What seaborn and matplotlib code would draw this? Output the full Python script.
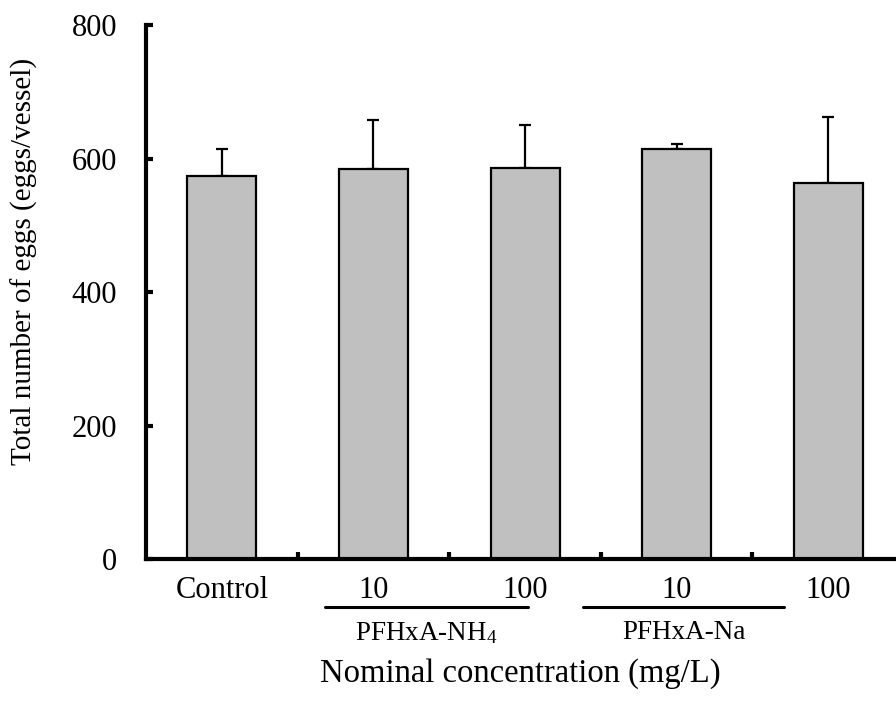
import matplotlib
matplotlib.use("Agg")
import matplotlib.pyplot as plt
import matplotlib.transforms as mtransforms
import pandas as pd
import seaborn as sns

# values
treatments = ["Control", "NH4 10", "NH4 100", "Na 10", "Na 100"]
tick_labels = ["Control", "10", "100", "10", "100"]
mean_eggs = [574, 585, 586, 615, 563]
sd_eggs = [41, 73, 64, 7, 100]
salt_groups = ["PFHxA-NH$_4$", "PFHxA-Na"]

df = pd.DataFrame({"treatment": treatments, "eggs": mean_eggs, "sd": sd_eggs})

sns.set_theme(style="ticks")
plt.rcParams["font.family"] = ["Liberation Serif", "DejaVu Serif"]
plt.rcParams["mathtext.fontset"] = "custom"
plt.rcParams["mathtext.rm"] = "Liberation Serif"
plt.rcParams["mathtext.it"] = "Liberation Serif:italic"
plt.rcParams["text.color"] = "black"
plt.rcParams["xtick.color"] = "black"
plt.rcParams["ytick.color"] = "black"
plt.rcParams["axes.labelcolor"] = "black"

fig = plt.figure(figsize=(8.96, 7.02), dpi=100)
ax = fig.add_axes([0.163, 0.203, 0.846, 0.7614])

sns.barplot(data=df, x="treatment", y="eggs", order=treatments, color="#c0c0c0",
            edgecolor="black", linewidth=1.6, width=0.455, errorbar=None, ax=ax,
            saturation=1)
ax.errorbar(range(len(treatments)), df["eggs"], yerr=[[0] * len(treatments), df["sd"]],
            fmt="none", ecolor="black", elinewidth=1.6, capsize=4.5, capthick=1.6, zorder=0)

ax.set_xlim(-0.5, 4.5)
ax.set_ylim(0, 800)
ax.set_yticks([0, 200, 400, 600, 800])
ax.set_xticks(range(len(treatments)))
ax.set_xticklabels(tick_labels)
ax.set_xticks([0.5, 1.5, 2.5, 3.5], minor=True)
ax.tick_params(axis="x", which="major", length=0, pad=12, labelsize=22)
ax.tick_params(axis="x", which="minor", direction="in", length=5, width=3)
ax.tick_params(axis="y", direction="in", length=5, width=3, pad=21, labelsize=22)

sns.despine(ax=ax)
for side in ["left", "bottom"]:
    ax.spines[side].set_linewidth(3)
    ax.spines[side].set_color("black")

ax.set_xlabel("")
ax.set_ylabel("Total number of eggs (eggs/vessel)", fontsize=21)
ax.yaxis.set_label_coords(-0.143, 0.557)

trans = mtransforms.blended_transform_factory(ax.transData, ax.transAxes)
line_spans = [(0.68, 2.02), (2.38, 3.71)]
for (x0, x1), name in zip(line_spans, salt_groups):
    ax.plot([x0, x1], [-0.089, -0.089], color="black", lw=2.2, transform=trans, clip_on=False)
    ax.text((x0 + x1) / 2, -0.137, name, transform=trans, ha="center", va="center", fontsize=19.5)

ax.text(1.97, -0.214, "Nominal concentration (mg/L)", transform=trans, ha="center",
        va="center", fontsize=23.5)

fig.savefig("out.png", dpi=100)
